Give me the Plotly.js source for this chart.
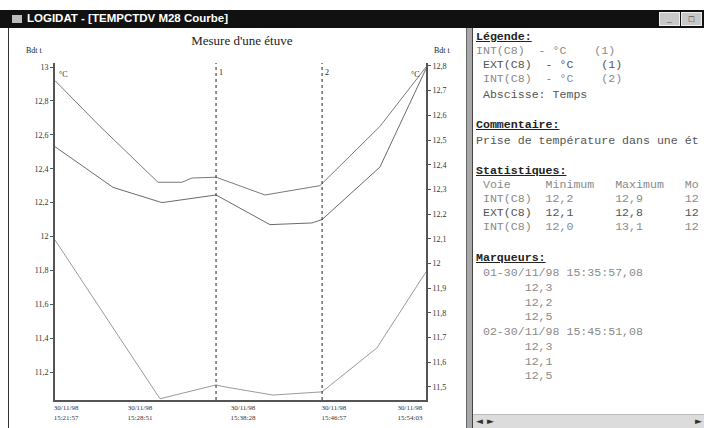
<!DOCTYPE html>
<html><head><meta charset="utf-8">
<script src="https://cdn.plot.ly/plotly-3.0.1.min.js"></script>
<style>
html,body{margin:0;padding:0;background:#fff;width:704px;height:428px;overflow:hidden;position:relative;}
#titlebar{position:absolute;left:0;top:10px;width:704px;height:18px;background:#111;}
#titlebar .txt{position:absolute;left:27px;top:2px;color:#fff;font:bold 11.5px "Liberation Sans",Arial,sans-serif;}
#titlebar .icon{position:absolute;left:12px;top:5px;width:10px;height:8px;background:#bbb;}
.btn{position:absolute;top:2px;width:21px;height:14px;background:#c8c8c8;border:1px solid #eee;box-sizing:border-box;font:bold 9px "Liberation Sans",sans-serif;color:#222;text-align:center;line-height:12px;}
#chart{position:absolute;left:0;top:28px;width:466px;height:400px;}
#border{position:absolute;left:8px;top:28px;width:1px;height:400px;background:#333;}
#split{position:absolute;left:466px;top:28px;width:7px;height:400px;background:#a8a8a8;border-left:1px solid #666;border-right:1px solid #444;box-sizing:border-box;}
#panel{position:absolute;left:473px;top:28px;width:231px;height:400px;overflow:hidden;background:#fff;font-family:"Liberation Mono","DejaVu Sans Mono",monospace;}
.ln{position:absolute;left:3px;white-space:pre;font-size:11.6px;line-height:12px;color:#8a8a8a;}
.hd{color:#222;font-weight:bold;text-decoration:underline;}
.dk{color:#555;}
#scroll{position:absolute;left:0;top:386px;width:231px;height:14px;background:#dcdcdc;border-top:1px solid #bbb;}
#scroll span{position:absolute;top:1px;font:9px "DejaVu Sans",sans-serif;color:#333;}
</style></head>
<body>
<div id="titlebar"><div class="icon"></div><div class="txt">LOGIDAT - [TEMPCTDV M28 Courbe]</div>
<div class="btn" style="left:659px">_</div><div class="btn" style="left:681px">□</div></div>
<div id="border"></div>
<div id="chart"></div>
<div id="split"></div>
<div id="panel">
<div class="ln hd" style="top:3px">Légende:</div>
<div class="ln" style="top:17px">INT(C8)  - °C    (1)</div>
<div class="ln dk" style="top:31px"> EXT(C8)  - °C    (1)</div>
<div class="ln" style="top:45px"> INT(C8)  - °C    (2)</div>
<div class="ln dk" style="top:61px"> Abscisse: Temps</div>
<div class="ln hd" style="top:91px">Commentaire:</div>
<div class="ln dk" style="top:107px">Prise de température dans une ét</div>
<div class="ln hd" style="top:137px">Statistiques:</div>
<div class="ln" style="top:151px"> Voie     Minimum   Maximum   Mo</div>
<div class="ln" style="top:165px"> INT(C8)  12,2      12,9      12</div>
<div class="ln dk" style="top:179px"> EXT(C8)  12,1      12,8      12</div>
<div class="ln" style="top:193px"> INT(C8)  12,0      13,1      12</div>
<div class="ln hd" style="top:224px">Marqueurs:</div>
<div class="ln" style="top:239px"> 01-30/11/98 15:35:57,08</div>
<div class="ln" style="top:254px">       12,3</div>
<div class="ln" style="top:269px">       12,2</div>
<div class="ln" style="top:283px">       12,5</div>
<div class="ln" style="top:298px"> 02-30/11/98 15:45:51,08</div>
<div class="ln" style="top:313px">       12,3</div>
<div class="ln" style="top:328px">       12,1</div>
<div class="ln" style="top:342px">       12,5</div>
<div id="scroll"><span style="left:3px">◄</span><span style="left:14px">►</span><span style="left:222px">►</span></div>
</div>
<script>
// Series 1 : INT(C8) (left axis)
const timesA = ['1998-11-30 15:20:55','1998-11-30 15:25:07','1998-11-30 15:30:32','1998-11-30 15:32:46','1998-11-30 15:33:42','1998-11-30 15:35:57','1998-11-30 15:40:31','1998-11-30 15:45:39','1998-11-30 15:51:15','1998-11-30 15:55:33'];
const valuesA = [12.92, 12.65, 12.32, 12.32, 12.345, 12.35, 12.245, 12.30, 12.65, 13.00];
// Series 2 : EXT(C8) (left axis)
const timesB = ['1998-11-30 15:20:55','1998-11-30 15:26:20','1998-11-30 15:30:54','1998-11-30 15:35:57','1998-11-30 15:40:59','1998-11-30 15:44:54','1998-11-30 15:45:51','1998-11-30 15:51:15','1998-11-30 15:55:33'];
const valuesB = [12.53, 12.29, 12.20, 12.245, 12.07, 12.08, 12.10, 12.41, 12.99];
// Series 3 : INT(C8) (right axis)
const timesC = ['1998-11-30 15:20:55','1998-11-30 15:26:59','1998-11-30 15:30:43','1998-11-30 15:35:57','1998-11-30 15:36:47','1998-11-30 15:41:16','1998-11-30 15:45:51','1998-11-30 15:50:58','1998-11-30 15:55:33'];
const valuesC = [12.095, 11.70, 11.452, 11.508, 11.50, 11.467, 11.48, 11.658, 11.966];
// Markers
const markerTimes = ['1998-11-30 15:35:57','1998-11-30 15:45:51'];
const markerLabels = ['1','2'];
// Axis ticks
const xTickVals = ['1998-11-30 15:21:57','1998-11-30 15:28:51','1998-11-30 15:38:28','1998-11-30 15:46:57','1998-11-30 15:54:03'];
const xTickText = ['30/11/98<br>15:21:57','30/11/98<br>15:28:51','30/11/98<br>15:38:28','30/11/98<br>15:46:57','30/11/98<br>15:54:03'];
const yLeftVals = [13, 12.8, 12.6, 12.4, 12.2, 12, 11.8, 11.6, 11.4, 11.2];
const yLeftText = ['13','12,8','12,6','12,4','12,2','12','11,8','11,6','11,4','11,2'];
const yRightVals = [12.8, 12.7, 12.6, 12.5, 12.4, 12.3, 12.2, 12.1, 12, 11.9, 11.8, 11.7, 11.6, 11.5];
const yRightText = ['12,8','12,7','12,6','12,5','12,4','12,3','12,2','12,1','12','11,9','11,8','11,7','11,6','11,5'];

const tickFont = {family:'Liberation Serif, serif', size:8, color:'#333'};
const traces = [
  {x:timesA, y:valuesA, type:'scatter', mode:'lines', line:{color:'#7a7a7a', width:1}, yaxis:'y', name:'INT(C8) (1)'},
  {x:timesB, y:valuesB, type:'scatter', mode:'lines', line:{color:'#6a6a6a', width:1}, yaxis:'y', name:'EXT(C8) (1)'},
  {x:timesC, y:valuesC, type:'scatter', mode:'lines', line:{color:'#9a9a9a', width:1}, yaxis:'y2', name:'INT(C8) (2)'}
];
const shapes = markerTimes.map(t => ({type:'line', xref:'x', yref:'paper', x0:t, x1:t, y0:0, y1:1,
  line:{color:'#222', width:1, dash:'dot'}}));
const annotations = markerTimes.map((t,i) => ({x:t, xref:'x', yref:'paper', y:0.99, text:markerLabels[i],
  showarrow:false, xanchor:'left', xshift:1, font:{family:'Liberation Serif, serif', size:8, color:'#222'}}));
annotations.push(
  {xref:'paper', yref:'paper', x:-0.054, y:1.055, text:'Bdt t', showarrow:false, xanchor:'center', font:{family:'Liberation Serif, serif', size:8, color:'#222'}},
  {xref:'paper', yref:'paper', x:1.045, y:1.055, text:'Bdt t', showarrow:false, xanchor:'center', font:{family:'Liberation Serif, serif', size:8, color:'#222'}},
  {xref:'paper', yref:'paper', x:0.006, y:0.985, text:'°C', showarrow:false, xanchor:'left', font:{family:'Liberation Serif, serif', size:8, color:'#333'}},
  {xref:'paper', yref:'paper', x:0.99, y:0.985, text:'°C', showarrow:false, xanchor:'right', font:{family:'Liberation Serif, serif', size:8, color:'#333'}}
);
const layout = {
  width:466, height:400,
  margin:{l:55, r:40, t:35, b:28, pad:0},
  paper_bgcolor:'rgba(0,0,0,0)', plot_bgcolor:'#fff',
  showlegend:false,
  title:{text:"Mesure d'une étuve", font:{family:'Liberation Serif, serif', size:13, color:'#222'},
    xref:'container', x:0.519, xanchor:'center', yref:'container', y:0.97, yanchor:'middle'},
  xaxis:{type:'date', range:['1998-11-30 15:20:55','1998-11-30 15:55:33'], showgrid:false, zeroline:false,
    showline:true, linecolor:'#555', linewidth:2, ticks:'', tickmode:'array', tickvals:xTickVals, ticktext:xTickText,
    tickfont:{family:'Liberation Serif, serif', size:7, color:'#333'}},
  yaxis:{range:[11.035, 13.024], showgrid:false, zeroline:false, showline:true, linecolor:'#555', linewidth:2,
    ticks:'outside', ticklen:3, tickcolor:'#555', tickmode:'array', tickvals:yLeftVals, ticktext:yLeftText, tickfont:tickFont},
  yaxis2:{range:[11.447, 12.812], overlaying:'y', side:'right', showgrid:false, zeroline:false, showline:true,
    linecolor:'#555', linewidth:2, ticks:'outside', ticklen:3, tickcolor:'#555', tickmode:'array',
    tickvals:yRightVals, ticktext:yRightText, tickfont:tickFont},
  shapes:shapes, annotations:annotations
};
Plotly.newPlot('chart', traces, layout, {staticPlot:true, displayModeBar:false});
</script>
</body></html>
